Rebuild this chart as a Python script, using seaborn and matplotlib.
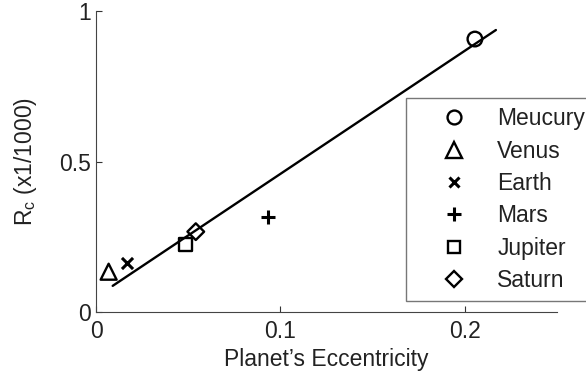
import matplotlib
matplotlib.use("Agg")
import matplotlib.pyplot as plt
import seaborn as sns
import pandas as pd
from matplotlib.lines import Line2D

planets = ["Meucury", "Venus", "Earth", "Mars", "Jupiter", "Saturn"]
eccentricity = [0.2056, 0.0068, 0.0167, 0.0934, 0.0484, 0.0541]
rc_values = [0.907, 0.134, 0.162, 0.315, 0.225, 0.267]
marker_list = ["o", "^", "x", "+", "s", "D"]
fit_x = [0.009, 0.217]
fit_y = [0.087, 0.937]

sns.set_theme(style="ticks")
plt.rcParams["font.family"] = ["Liberation Sans", "DejaVu Sans"]
plt.rcParams["mathtext.fontset"] = "custom"
plt.rcParams["mathtext.rm"] = "Liberation Sans"
plt.rcParams["mathtext.it"] = "Liberation Sans"

FS = 16.5
df = pd.DataFrame({"planet": planets, "e": eccentricity, "rc": rc_values})

fig = plt.figure(figsize=(5.86, 3.81), dpi=100)
ax = fig.add_axes([0.164, 0.181, 0.786, 0.790])

sns.lineplot(x=fit_x, y=fit_y, ax=ax, color="black", linewidth=1.7)

sizes = {"o": 10.5, "^": 11.5, "x": 8, "+": 10, "s": 9.5, "D": 8.5}
for name, m in zip(planets, marker_list):
    sub = df[df["planet"] == name]
    if m in ("x", "+"):
        sns.scatterplot(data=sub, x="e", y="rc", marker=m, color="black",
                        s=sizes[m] ** 2, linewidth=2.2, ax=ax, zorder=3)
    else:
        sns.scatterplot(data=sub, x="e", y="rc", marker=m, facecolor="none",
                        edgecolor="black", s=sizes[m] ** 2, linewidth=1.7,
                        ax=ax, zorder=3)

ax.set_xlim(0, 0.25)
ax.set_ylim(0, 1)
ax.set_xticks([0, 0.1, 0.2])
ax.set_xticklabels(["0", "0.1", "0.2"])
ax.set_yticks([0, 0.5, 1])
ax.set_yticklabels(["0", "0.5", "1"])
ax.tick_params(axis="x", direction="in", length=4, width=0.8, colors="#333333",
               labelsize=FS, labelcolor="#222222", pad=6)
ax.tick_params(axis="y", direction="in", length=4, width=0.8, colors="#333333",
               labelsize=FS, labelcolor="#222222", pad=4)
for s in ["top", "right"]:
    ax.spines[s].set_visible(False)
for s in ["left", "bottom"]:
    ax.spines[s].set_color("#444444")
    ax.spines[s].set_linewidth(0.8)

ax.set_xlabel("Planet\u2019s Eccentricity", fontsize=FS, color="#222222", labelpad=3)
ax.set_ylabel(r"R$_\mathregular{c}$ (x1/1000)", fontsize=FS, color="#222222", labelpad=14)

handles = []
for name, m in zip(planets, marker_list):
    if m in ("x", "+"):
        h = Line2D([], [], marker=m, color="black", linestyle="none",
                   markersize=sizes[m] * 0.95, markeredgewidth=2.2)
    else:
        h = Line2D([], [], marker=m, color="black", markerfacecolor="none",
                   linestyle="none", markersize=sizes[m] * 0.95, markeredgewidth=1.7)
    handles.append(h)
leg = ax.legend(handles, planets, loc="upper left", bbox_to_anchor=(0.672, 0.711),
                fontsize=FS, frameon=True, fancybox=False, labelspacing=0.41,
                handletextpad=0.2, borderpad=0.4, handlelength=3.4,
                borderaxespad=0)
leg.get_frame().set_edgecolor("#555555")
leg.get_frame().set_linewidth(1.0)
for t in leg.get_texts():
    t.set_color("#222222")

fig.savefig("out.png", dpi=100)
